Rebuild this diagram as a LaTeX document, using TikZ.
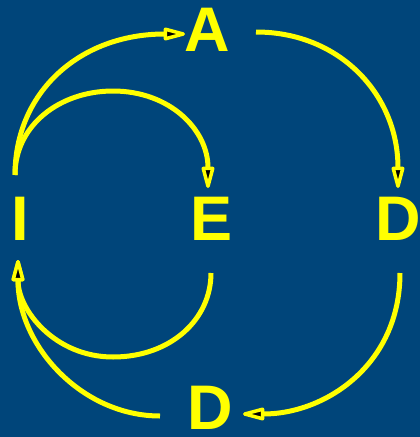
\documentclass[tikz,border=0pt]{standalone}
\usepackage{fontspec}
\setmainfont{Liberation Sans}
\usetikzlibrary{arrows.meta}
\definecolor{bgblue}{RGB}{0,69,122}
\definecolor{ylw}{RGB}{255,255,0}
\begin{document}
\begin{tikzpicture}[x=1pt,y=-1pt,
  letter/.style={inner sep=0pt,outer sep=0pt,text=ylw,font=\fontsize{63}{63}\selectfont\bfseries},
  conn/.style={draw=ylw,line width=5pt,
    -{Triangle[length=27pt,width=13pt,line width=3.5pt,fill=black,round]}}]
\fill[bgblue] (0,0) rectangle (420,437);
\useasboundingbox (0,0) rectangle (420,437);
\node[letter] (A) at (207,30) {A};
\node[letter] (I) at (20,219) {I};
\node[letter] (E) at (212,219) {E};
\node[letter] (Dr) at (398,219) {D};
\node[letter] (Db) at (210,408) {D};
% I -> A
\draw[conn] ([shift={(-5,-44)}]I.center) .. controls (15,92) and (80,34) .. ([shift={(-22,4)}]A.center);
% A -> D right
\draw[conn] ([shift={(49,2)}]A.center) .. controls (340,32) and (398,95) .. ([shift={(0,-31)}]Dr.center);
% I -> E
\draw[conn] ([shift={(-5,-44)}]I.center) .. controls (15,125) and (60,91) .. (113,91) .. controls (170,91) and (208,130) .. ([shift={(-4,-31)}]E.center);
% D right -> D bottom
\draw[conn] ([shift={(2,54)}]Dr.center) .. controls (400,365) and (325,414) .. ([shift={(33,6)}]Db.center);
% D bottom -> I
\draw[conn] ([shift={(-50,8)}]Db.center) .. controls (82,416) and (18,346) .. ([shift={(-2,41)}]I.center);
% E -> I
\draw[conn] ([shift={(-1,54)}]E.center) .. controls (211,320) and (170,357) .. (113,357) .. controls (55,357) and (18,310) .. ([shift={(-2,41)}]I.center);
\end{tikzpicture}
\end{document}
